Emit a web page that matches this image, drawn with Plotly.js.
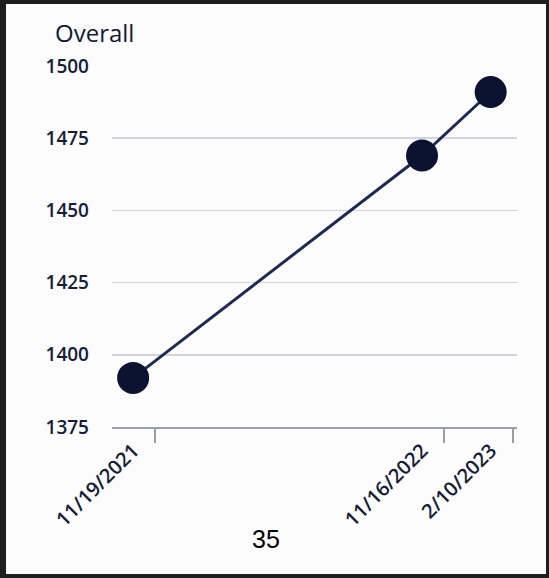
<!DOCTYPE html>
<html>
<head>
<meta charset="utf-8">
<script src="https://cdn.plot.ly/plotly-3.0.1.min.js"></script>
<style>
  html, body { margin: 0; padding: 0; background: #fcfcfd; }
  #wrap { position: relative; width: 549px; height: 578px; }
  #chart { position: absolute; left: 0; top: 0; width: 549px; height: 578px; }
  #frame { position: absolute; left: 0; top: 0; width: 549px; height: 578px; box-sizing: border-box;
           border-style: solid; border-color: #1e1e1e; border-width: 4px 3px 4px 6px; pointer-events: none; }
</style>
</head>
<body>
<div id="wrap"><div id="chart"></div><div id="frame"></div></div>
<script>
// Data
const dates = ['2021-11-19', '2022-11-16', '2023-02-10'];
const dateLabels = ['11/19/2021', '11/16/2022', '2/10/2023'];
const overall = [1392, 1469, 1491];
const yTicks = [1375, 1400, 1425, 1450, 1475, 1500];
const chartTitle = 'Overall';
const pageNumber = '35';

const navy = '#161d36';
const axisGray = '#9a9dab';

const traces = [
  {
    x: dates, y: overall, type: 'scatter', mode: 'lines+markers',
    line: { color: '#1e2a4f', width: 3 },
    marker: { color: '#0c1330', size: 32 },
    cliponaxis: false, showlegend: false, hoverinfo: 'x+y'
  },
  {
    x: dates, y: overall, xaxis: 'x2', type: 'scatter', mode: 'markers',
    marker: { opacity: 0 }, showlegend: false, hoverinfo: 'skip'
  }
];

const layout = {
  width: 549, height: 578,
  paper_bgcolor: '#fcfcfd', plot_bgcolor: '#fcfcfd',
  margin: { l: 112, r: 32, t: 66, b: 151 },
  showlegend: false,
  title: {
    text: chartTitle,
    font: { family: 'Open Sans, sans-serif', size: 24, weight: 500, color: '#141a33' },
    xref: 'container', x: 55 / 549, xanchor: 'left',
    yref: 'container', y: 1 - 34 / 578, yanchor: 'middle'
  },
  xaxis: {
    type: 'date',
    range: ['2021-10-23 12:00', '2023-03-15'],
    tickmode: 'array', tickvals: dates, ticktext: dateLabels,
    tickangle: -45, ticks: '',
    ticklabelstandoff: 2,
    tickfont: { family: 'Open Sans, sans-serif', size: 20, weight: 600, color: navy },
    showgrid: false, zeroline: false,
    showline: true, linecolor: axisGray, linewidth: 2
  },
  xaxis2: {
    type: 'date', overlaying: 'x', anchor: 'y', side: 'bottom',
    range: ['2021-09-26', '2023-02-15 12:00'],
    tickmode: 'array', tickvals: dates,
    ticks: 'outside', ticklen: 15, tickwidth: 2, tickcolor: axisGray,
    showticklabels: false, showgrid: false, zeroline: false, showline: false
  },
  yaxis: {
    range: [1375, 1500],
    tickmode: 'array', tickvals: yTicks,
    ticks: '', ticklabelstandoff: 22,
    tickfont: { family: 'Open Sans, sans-serif', size: 19, weight: 600, color: navy },
    showgrid: true, gridcolor: '#d3d5dc', gridwidth: 1.5,
    zeroline: false, showline: false
  },
  annotations: [{
    text: pageNumber, xref: 'paper', yref: 'paper',
    x: (266 - 112) / 405, y: (427 - 539) / 361,
    xanchor: 'center', yanchor: 'middle', showarrow: false,
    font: { family: 'Liberation Sans, Arial, sans-serif', size: 25, color: '#000000' }
  }]
};

Plotly.newPlot('chart', traces, layout, { displayModeBar: false, staticPlot: true });
</script>
</body>
</html>
